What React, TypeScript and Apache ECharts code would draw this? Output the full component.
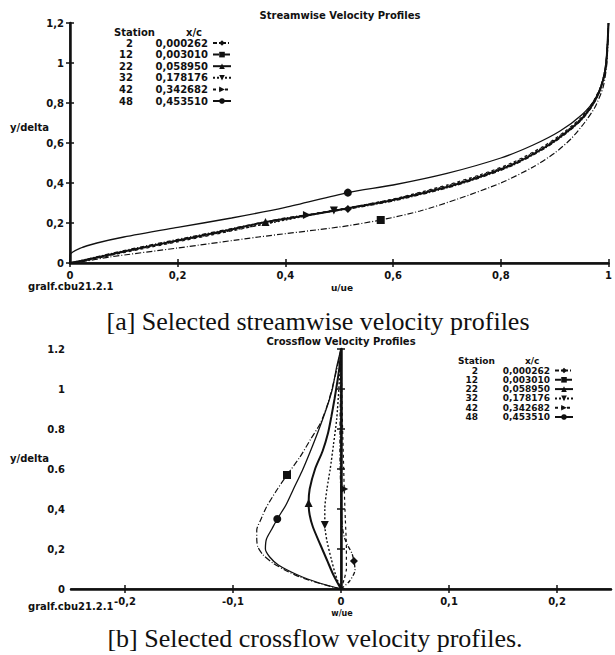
import React, { useEffect, useRef } from "react";
import * as echarts from "echarts";

// ---------- data ----------
const stations = ["2", "12", "22", "32", "42", "48"];
const xOverC = ["0,000262", "0,003010", "0,058950", "0,178176", "0,342682", "0,453510"];

// Streamwise profiles: [u/ue, y/delta]
const stream2 = [[0,0],[0.02,0.012],[0.1,0.062],[0.2,0.118],[0.3,0.172],[0.4,0.225],[0.516,0.27],[0.6,0.31],[0.7,0.375],[0.76,0.425],[0.82,0.485],[0.88,0.57],[0.92,0.645],[0.95,0.715],[0.97,0.785],[0.985,0.87],[0.995,0.98],[1,1.2]];
const stream12 = [[0,0],[0.02,0.005],[0.074,0.03],[0.2,0.075],[0.35,0.13],[0.5,0.18],[0.577,0.215],[0.65,0.26],[0.72,0.32],[0.8,0.4],[0.86,0.48],[0.9,0.55],[0.93,0.62],[0.955,0.7],[0.975,0.78],[0.99,0.88],[0.997,1.0],[1,1.2]];
const stream22 = [[0,0],[0.02,0.01],[0.1,0.058],[0.2,0.113],[0.3,0.168],[0.363,0.205],[0.45,0.243],[0.52,0.275],[0.6,0.315],[0.7,0.38],[0.76,0.43],[0.82,0.49],[0.88,0.575],[0.92,0.65],[0.95,0.72],[0.97,0.79],[0.985,0.87],[0.995,0.98],[1,1.2]];
const stream32 = [[0,0],[0.02,0.008],[0.1,0.055],[0.2,0.11],[0.3,0.163],[0.4,0.215],[0.49,0.262],[0.6,0.318],[0.7,0.385],[0.76,0.435],[0.82,0.495],[0.88,0.58],[0.92,0.655],[0.95,0.725],[0.97,0.795],[0.985,0.875],[0.995,0.985],[1,1.2]];
const stream42 = [[0,0],[0.02,0.006],[0.1,0.052],[0.2,0.106],[0.3,0.16],[0.44,0.24],[0.52,0.278],[0.6,0.32],[0.7,0.39],[0.76,0.44],[0.82,0.5],[0.88,0.585],[0.92,0.66],[0.95,0.73],[0.97,0.8],[0.985,0.88],[0.995,0.99],[1,1.2]];
const stream48 = [[0,0],[0,0.04],[0.02,0.075],[0.05,0.1],[0.1,0.13],[0.2,0.178],[0.3,0.225],[0.4,0.278],[0.516,0.352],[0.6,0.39],[0.7,0.448],[0.8,0.525],[0.86,0.59],[0.91,0.66],[0.95,0.74],[0.975,0.82],[0.99,0.92],[0.997,1.05],[1,1.2]];
const streamMarkIdx = [6, 6, 5, 6, 5, 8];

// Crossflow profiles: [w/ue, y/delta]
const cross2 = [[0,0],[0.008,0.04],[0.013,0.095],[0.012,0.14],[0.01,0.18],[0.006,0.22],[0.003,0.26],[0.001,0.32],[0,0.45],[-0.001,0.7],[0,1.2]];
const cross12 = [[0,0],[-0.018,0.025],[-0.038,0.06],[-0.052,0.095],[-0.063,0.13],[-0.072,0.17],[-0.077,0.21],[-0.078,0.25],[-0.078,0.295],[-0.074,0.35],[-0.069,0.41],[-0.06,0.49],[-0.05,0.57],[-0.038,0.66],[-0.028,0.75],[-0.019,0.83],[-0.012,0.93],[-0.007,1.03],[-0.003,1.12],[0,1.2]];
const cross22 = [[0,0],[-0.007,0.07],[-0.013,0.145],[-0.019,0.22],[-0.026,0.31],[-0.029,0.37],[-0.03,0.43],[-0.029,0.5],[-0.024,0.6],[-0.017,0.69],[-0.012,0.78],[-0.009,0.86],[-0.006,0.95],[-0.003,1.05],[-0.001,1.13],[0,1.2]];
const cross32 = [[0,0],[-0.005,0.07],[-0.009,0.15],[-0.013,0.24],[-0.015,0.32],[-0.015,0.4],[-0.013,0.5],[-0.01,0.6],[-0.007,0.72],[-0.004,0.85],[-0.002,1.0],[0,1.2]];
const cross42 = [[0,0],[0.003,0.05],[0.005,0.1],[0.005,0.2],[0.004,0.35],[0.003,0.5],[0.002,0.7],[0.001,0.9],[0,1.2]];
const cross48 = [[0,0],[-0.02,0.03],[-0.04,0.07],[-0.058,0.12],[-0.066,0.16],[-0.07,0.2],[-0.069,0.25],[-0.064,0.3],[-0.059,0.35],[-0.051,0.42],[-0.044,0.5],[-0.036,0.59],[-0.029,0.68],[-0.021,0.79],[-0.013,0.91],[-0.008,1.0],[-0.004,1.11],[0,1.2]];
const crossMarkIdx = [3, 12, 6, 4, 5, 8];

const streamXTicks = [0, 0.2, 0.4, 0.6, 0.8, 1];
const crossXTicks = [-0.2, -0.1, 0, 0.1, 0.2];
const yTicks = [0, 0.2, 0.4, 0.6, 0.8, 1, 1.2];

const streamData = [stream2, stream12, stream22, stream32, stream42, stream48];
const crossData = [cross2, cross12, cross22, cross32, cross42, cross48];

// ---------- styles ----------
const FONT = "DejaVu Sans";
const INK = "#111";
const symbols = [
  "diamond",
  "rect",
  "triangle",
  "path://M0,0L10,0L5,10Z",
  "path://M0,0L10,5L0,10Z",
  "circle",
];
const lineTypes: any[] = [[4, 2, 1, 2], [6, 2, 1, 2], "solid", [2, 2], [3, 3], "solid"];
const lineWidths = [1.3, 1.2, 2, 1.4, 1.2, 1.3];

function fmtComma(v: number) {
  if (Math.abs(v) < 1e-9) return "0";
  if (Math.abs(v - Math.round(v)) < 1e-9) return String(Math.round(v));
  return v.toFixed(1).replace(".", ",");
}
function fmtCrossY(v: number) {
  if (v > 0.5 && Math.abs(v - 1) > 1e-9) return v.toFixed(1);
  return fmtComma(v);
}

export default function App() {
  const ref = useRef<HTMLDivElement>(null);
  useEffect(() => {
    if (!ref.current) return;
    const chart = echarts.init(ref.current, null, { renderer: "svg" });

    const labelStyle = { color: INK, fontFamily: FONT, fontWeight: "bold" as const, fontSize: 10 };
    const mainLine = { lineStyle: { color: INK, width: 2.5 } };
    const frameLine = { lineStyle: { color: INK, width: 1.5 } };
    const tickIn = { inside: true, length: 4, lineStyle: { color: INK, width: 1.5 } };

    const mkSeries = (prefix: string, data: number[][][], marks: number[], xi: number, yi: number) =>
      data.map((pts, k) => ({
        name: prefix + stations[k],
        type: "line",
        xAxisIndex: xi,
        yAxisIndex: yi,
        smooth: 0.25,
        symbol: symbols[k],
        symbolSize: 8,
        showAllSymbol: true,
        color: INK,
        itemStyle: { color: INK },
        lineStyle: { color: INK, width: lineWidths[k], type: lineTypes[k] },
        data: pts.map((p, i) => ({
          value: p,
          symbol: i === marks[k] ? symbols[k] : "none",
          symbolSize: 8,
        })),
        silent: true,
      }));

    const legendFor = (
      prefix: string, left: number, top: number, gap: number, xcWidth: number, fs: number, lh: number
    ) => ({
      orient: "vertical",
      left,
      top,
      padding: 0,
      itemGap: gap,
      itemWidth: 18,
      itemHeight: 7,
      align: "right",
      selectedMode: false,
      data: stations.map((s) => prefix + s),
      formatter: (name: string) => {
        const k = stations.indexOf(name.slice(prefix.length));
        return `{st|${stations[k]}}{xc|${xOverC[k]}}`;
      },
      textStyle: {
        rich: {
          st: { width: 20, align: "right", fontFamily: FONT, fontWeight: "bold", fontSize: fs, color: INK, lineHeight: lh },
          xc: { width: xcWidth, align: "right", fontFamily: FONT, fontWeight: "bold", fontSize: fs, color: INK, lineHeight: lh },
        },
      },
    });

    const txt = (text: string, x: number, y: number, align = "left", font = `bold 10px '${FONT}'`) => ({
      type: "text",
      x,
      y,
      silent: true,
      style: { text, font, fill: INK, align, verticalAlign: "middle" },
    });

    const option: any = {
      animation: false,
      backgroundColor: "#fff",
      grid: [
        { left: 70, top: 23, width: 543, height: 240, show: false },
        { left: 71, top: 349, width: 540, height: 240, show: false },
      ],
      xAxis: [
        {
          gridIndex: 0, type: "value", min: 0, max: 1, interval: 0.2,
          axisLine: mainLine, axisTick: tickIn,
          axisLabel: { ...labelStyle, margin: 7, formatter: (v: number) => fmtComma(v), customValues: streamXTicks },
          splitLine: { show: false },
        },
        {
          gridIndex: 0, type: "value", position: "top", min: 0, max: 1, interval: 0.2,
          axisLine: frameLine, axisTick: tickIn, axisLabel: { show: false }, splitLine: { show: false },
        },
        {
          gridIndex: 1, type: "value", min: -0.25, max: 0.25,
          axisLine: mainLine,
          axisTick: { ...tickIn, customValues: crossXTicks },
          axisLabel: { ...labelStyle, margin: 7, formatter: (v: number) => fmtComma(v), customValues: crossXTicks },
          splitLine: { show: false },
        },
        {
          gridIndex: 1, type: "value", position: "top", min: -0.25, max: 0.25,
          axisLine: frameLine,
          axisTick: { ...tickIn, customValues: crossXTicks },
          axisLabel: { show: false }, splitLine: { show: false },
        },
      ],
      yAxis: [
        {
          gridIndex: 0, type: "value", min: 0, max: 1.2, interval: 0.2,
          axisLine: mainLine, axisTick: tickIn,
          axisLabel: { ...labelStyle, margin: 6, formatter: (v: number) => fmtComma(v), customValues: yTicks },
          splitLine: { show: false },
        },
        {
          gridIndex: 0, type: "value", position: "right", min: 0, max: 1.2, interval: 0.2,
          axisLine: frameLine, axisTick: tickIn, axisLabel: { show: false }, splitLine: { show: false },
        },
        {
          gridIndex: 1, type: "value", min: 0, max: 1.2, interval: 0.2,
          axisLine: mainLine, axisTick: tickIn,
          axisLabel: { ...labelStyle, margin: 6, formatter: (v: number) => fmtCrossY(v), customValues: yTicks },
          splitLine: { show: false },
        },
        {
          gridIndex: 1, type: "value", position: "right", min: 0, max: 1.2, interval: 0.2,
          axisLine: frameLine, axisTick: tickIn, axisLabel: { show: false }, splitLine: { show: false },
        },
      ],
      legend: [
        legendFor("a", 113, 38, 1.6, 75, 10, 10),
        legendFor("b", 458, 366, 0.3, 72, 9, 9),
      ],
      series: [
        ...mkSeries("a", streamData, streamMarkIdx, 0, 0),
        ...mkSeries("b", crossData, crossMarkIdx, 2, 2),
      ],
      graphic: [
        txt("Streamwise Velocity Profiles", 340, 15, "center"),
        txt("Station", 114, 32),
        txt("x/c", 186, 32),
        txt("y/delta", 10, 127),
        txt("u/ue", 342, 288, "center", `bold 9px '${FONT}'`),
        txt("gralf.cbu21.2.1", 28, 286),
        txt("[a] Selected streamwise velocity profiles", 318, 321, "center", "26px 'Liberation Serif'"),
        txt("Crossflow Velocity Profiles", 341, 341, "center"),
        txt("Station", 458, 361, "left", `bold 9px '${FONT}'`),
        txt("x/c", 525, 361, "left", `bold 9px '${FONT}'`),
        txt("y/delta", 10, 458),
        txt("w/ue", 342, 613, "center", `bold 8px '${FONT}'`),
        txt("gralf.cbu21.2.1", 28, 606),
        txt("[b] Selected crossflow velocity profiles.", 315, 638, "center", "26px 'Liberation Serif'"),
      ],
    };

    chart.setOption(option);
    return () => chart.dispose();
  }, []);

  return (
    <div
      ref={ref}
      style={{ position: "absolute", left: 0, top: 0, width: 615, height: 655, background: "#fff" }}
    />
  );
}
